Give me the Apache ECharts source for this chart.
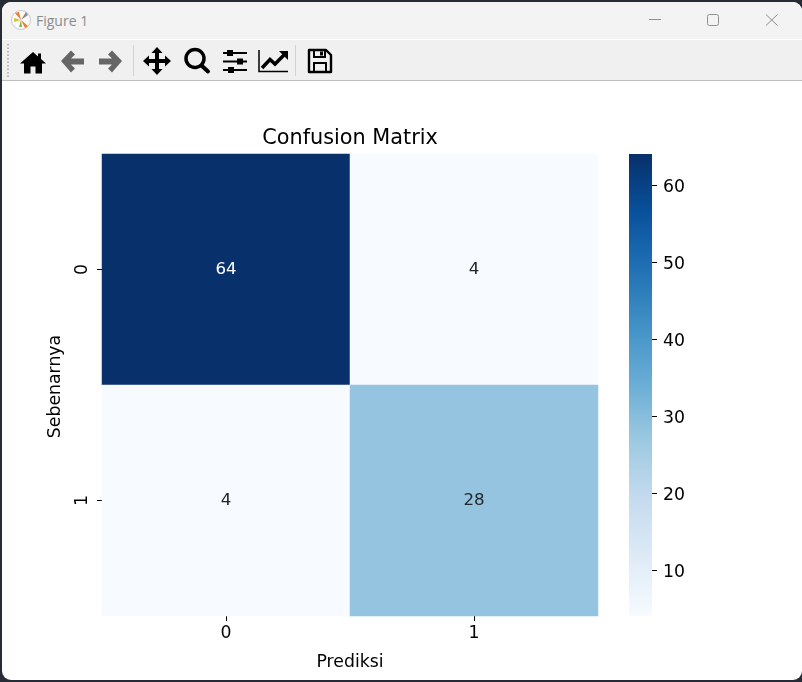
<!DOCTYPE html>
<html>
<head>
<meta charset="utf-8">
<script src="https://cdn.jsdelivr.net/npm/echarts@6/dist/echarts.min.js"></script>
<style>
html,body{margin:0;padding:0;width:802px;height:682px;overflow:hidden;background:#262b36}
#win{position:absolute;left:2px;top:2px;width:800px;height:678px;background:#fff;border-radius:9px;overflow:hidden}
#bar{position:absolute;left:0;top:0;width:800px;height:37px;background:#f3f3f3;border-bottom:1px solid #fff}
#tool{position:absolute;left:0;top:38px;width:800px;height:40px;background:#f0f0f0;border-bottom:1px solid #bfbfbf}
#ttl{position:absolute;left:34px;top:10px;font:14px "Open Sans","Noto Sans",sans-serif;color:#8b8b8b;line-height:18px}
#art{position:absolute;left:0;top:0}
#chart{position:absolute;left:0;top:0;width:802px;height:682px}
</style>
</head>
<body>
<div id="win"><div id="bar"></div><div id="tool"></div><div id="ttl">Figure 1</div></div>
<svg id="art" width="802" height="682" viewBox="0 0 802 682">
  <circle cx="21" cy="20" r="9.5" fill="#fbfbfb" stroke="#c9c9c9"/>
  <path d="M21 20L15 13L19 12Z" fill="#ee7d2c"/><path d="M21 20L28 26L25 28Z" fill="#ee7d2c"/>
  <path d="M21 20L14 22L14 18Z" fill="#d9c23a"/><path d="M21 20L22 27L19 27Z" fill="#7cba4a"/>
  <path d="M21 20L26 12L28 15Z" fill="#8a8a8a"/>
  <path d="M649 19.5H661" stroke="#8f8f8f" stroke-width="1"/>
  <rect x="707.5" y="14.5" width="11" height="11" rx="2" fill="none" stroke="#8f8f8f" stroke-width="1"/>
  <path d="M766 14.5L777.500 25.500M777.500 14.500L766 25.500" stroke="#8f8f8f" stroke-width="1"/>
  <path d="M8 44V77" stroke="#a8a8a8" stroke-width="1.500" stroke-dasharray="1.500 2"/>
  <path d="M133.500 45V76M295.500 45V76" stroke="#d2d2d2" stroke-width="1"/>
  <path d="M33 52L20 63.500H24V73.500H30.500V66.500H35.500V73.500H42V63.500H46L41 59V53.500H38V56.500Z" fill="#000"/>
  <path d="M61 61L71 50.500L75 54.500L71 58.500H84V64.500H71L75 68.500L71 72.500Z" fill="#666"/>
  <path d="M122 61L112 50.500L108 54.500L112 58.500H99V64.500H112L108 68.500L112 72.500Z" fill="#666"/>
  <path d="M157 47L162.500 53H159V59H165V55.500L171 61L165 66.500V63H159V69H162.500L157 75L151.500 69H155V63H149V66.500L143 61L149 55.500V59H155V53H151.500Z" fill="#000"/>
  <circle cx="195" cy="58.500" r="9" fill="none" stroke="#000" stroke-width="3.500"/>
  <path d="M201.500 65.500L208 71.500" stroke="#000" stroke-width="4" stroke-linecap="round"/>
  <path d="M223 53H247M223 61.500H247M223 70H247" stroke="#000" stroke-width="1.800"/>
  <rect x="227" y="50" width="6" height="6" fill="#000"/><rect x="237" y="58.500" width="6" height="6" fill="#000"/><rect x="228" y="67" width="6" height="6" fill="#000"/>
  <path d="M259 50V71.500H288" fill="none" stroke="#000" stroke-width="1.500"/>
  <path d="M262 68L270 59.500L275 64L284 55" fill="none" stroke="#000" stroke-width="3.500"/>
  <path d="M279 51H288V60Z" fill="#000"/>
  <path d="M309 50H326L331 55V72H309Z" fill="none" stroke="#000" stroke-width="2.400" stroke-linejoin="round"/>
  <rect x="314" y="50" width="11" height="7" fill="none" stroke="#000" stroke-width="2"/>
  <rect x="320" y="51.500" width="3" height="4" fill="#000"/>
  <rect x="314" y="63" width="12" height="9" fill="none" stroke="#000" stroke-width="2"/>
</svg>
<div id="chart"></div>
<script>
const xLabels = ['0', '1'];
const yLabels = ['0', '1'];
const matrix = [
  [64, 4],
  [4, 28]
];
const colorbarTicks = [10, 20, 30, 40, 50, 60];
const blues = ['#f7fbff','#deebf7','#c6dbef','#9ecae1','#6baed6','#4292c6','#2171b5','#08519c','#08306b'];
const valueMin = 4, valueMax = 64;

const FONT = '"DejaVu Sans"';
const cells = [];
matrix.forEach((row, r) => row.forEach((v, c) => cells.push({
  value: [c, r, v],
  label: { color: v > 40 ? '#ffffff' : '#262626' }
})));
const barGradient = new echarts.graphic.LinearGradient(0, 1, 0, 0,
  blues.map((color, i) => ({ offset: i / (blues.length - 1), color })));

const chart = echarts.init(document.getElementById('chart'), null, { renderer: 'canvas' });
chart.setOption({
  animation: false,
  backgroundColor: 'transparent',
  textStyle: { fontFamily: FONT },
  title: {
    text: 'Confusion Matrix',
    left: 350, top: 128, textAlign: 'center', padding: 0,
    textStyle: { fontFamily: FONT, fontSize: 20.8, fontWeight: 'normal', color: '#000' }
  },
  grid: [
    { left: 102, top: 154, width: 496, height: 462 },
    { left: 629, top: 154, width: 23, height: 462 }
  ],
  xAxis: [
    {
      type: 'category', gridIndex: 0, data: xLabels,
      name: 'Prediksi', nameLocation: 'middle', nameGap: 38,
      nameTextStyle: { fontFamily: FONT, fontSize: 17.3, color: '#000' },
      axisLine: { show: false },
      axisTick: { show: true, alignWithLabel: true, length: 5, lineStyle: { color: '#000' } },
      axisLabel: { fontFamily: FONT, fontSize: 17.3, color: '#000', margin: 9 },
      splitLine: { show: false }
    },
    { type: 'category', gridIndex: 1, show: false, data: ['scale'] }
  ],
  yAxis: [
    {
      type: 'category', gridIndex: 0, data: yLabels, inverse: true,
      name: 'Sebenarnya', nameLocation: 'middle', nameGap: 38, nameRotate: 90,
      nameTextStyle: { fontFamily: FONT, fontSize: 17.3, color: '#000', padding: [0, 3, 0, 0] },
      axisLine: { show: false },
      axisTick: { show: true, alignWithLabel: true, length: 5, lineStyle: { color: '#000' } },
      axisLabel: { fontFamily: FONT, fontSize: 17.3, color: '#000', rotate: 90, margin: 11 },
      splitLine: { show: false }
    },
    {
      type: 'value', gridIndex: 1, position: 'right', min: valueMin, max: valueMax,
      axisLine: { show: false },
      axisTick: { show: true, length: 5, customValues: colorbarTicks, lineStyle: { color: '#000' } },
      axisLabel: {
        margin: 11, customValues: colorbarTicks, formatter: '{v|{value}}',
        rich: { v: { fontFamily: FONT, fontSize: 17.3, color: '#000', padding: [5, 0, 0, 0] } }
      },
      splitLine: { show: false }
    }
  ],
  visualMap: {
    show: false, type: 'continuous', seriesIndex: 0, min: valueMin, max: valueMax,
    dimension: 2, inRange: { color: blues }
  },
  series: [
    {
      type: 'heatmap', xAxisIndex: 0, yAxisIndex: 0, data: cells,
      label: { show: true, fontFamily: FONT, fontSize: 16.67, formatter: p => String(p.value[2]) },
      itemStyle: { borderWidth: 0 },
      emphasis: { disabled: true }
    },
    {
      type: 'bar', xAxisIndex: 1, yAxisIndex: 1, data: [valueMax], barWidth: '100%', silent: true,
      itemStyle: { color: barGradient, borderWidth: 0 }
    }
  ]
});
</script>
</body>
</html>
